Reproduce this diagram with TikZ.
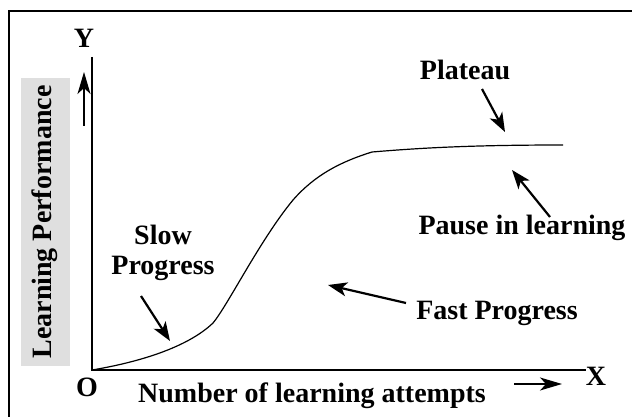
\documentclass[tikz,border=0pt]{standalone}
\usepackage{fontspec}
\setmainfont{Liberation Serif}
\usetikzlibrary{arrows.meta}
\begin{document}
\begin{tikzpicture}[x=1pt,y=-1pt,
  lbl/.style={font=\fontsize{28}{30}\selectfont\bfseries, inner sep=0pt},
  axis/.style={line width=1.1pt},
  curve/.style={line width=1.2pt},
  note/.style={line width=2.2pt,-{Stealth[length=19pt,width=14pt,inset=5pt]}},
  dirarrow/.style={line width=1.1pt,-{Stealth[length=22pt,width=13pt,inset=6pt]}}]
  \useasboundingbox (0,0) rectangle (632,417);
  % outer frame (runs past the page edge on the right and bottom)
  \draw[line width=1.2pt] (9,11) rectangle (650,440);
  % shaded band behind the vertical label
  \fill[gray!25] (21,78) rectangle (70,366);
  \node[lbl, rotate=90] (ylabel) at (45,222) {Learning Performance};
  % axes
  \coordinate (O) at (92,370);
  \coordinate (ytop) at (92,57);
  \coordinate (xend) at (586,370);
  \draw[axis] (ytop) -- (O) -- (xend);
  \node[lbl] (Y) at (84,38) {Y};
  \node[lbl] (X) at (596,376) {X};
  \node[lbl] (Olabel) at (87,387) {O};
  \node[lbl] (xlabel) at (312,396) {Number of learning attempts};
  % direction arrows beside the axes
  \coordinate (ya0) at (84,126);
  \coordinate (ya1) at (84,72);
  \draw[dirarrow] (ya0) -- (ya1);
  \coordinate (xa0) at (514,384);
  \coordinate (xa1) at (562,384);
  \draw[dirarrow] (xa0) -- (xa1);
  % learning curve
  \coordinate (c1) at (213,323);
  \coordinate (c2) at (293,200);
  \coordinate (c3) at (372,152);
  \coordinate (c4) at (563,145);
  \draw[curve] (O) .. controls (140,362) and (188,347) .. (c1)
    .. controls (228,305) and (260,240) .. (c2)
    .. controls (315,175) and (340,162) .. (c3)
    .. controls (420,148) and (470,145) .. (c4);
  % annotations
  \node[lbl] (plateau) at (465,70) {Plateau};
  \coordinate (p0) at (482,89);
  \coordinate (p1) at (505,132);
  \draw[note] (p0) -- (p1);
  \node[lbl] (pause) at (522,228) {Pause in learning};
  \coordinate (q0) at (550,217);
  \coordinate (q1) at (512,170);
  \draw[note] (q0) -- (q1);
  \node[lbl] (fast) at (497,313) {Fast Progress};
  \coordinate (f0) at (406,303);
  \coordinate (f1) at (328,285);
  \draw[note] (f0) -- (f1);
  \node[lbl, align=center] (slow) at (163,253) {Slow\\Progress};
  \coordinate (s0) at (141,296);
  \coordinate (s1) at (170,341);
  \draw[note] (s0) -- (s1);
\end{tikzpicture}
\end{document}
